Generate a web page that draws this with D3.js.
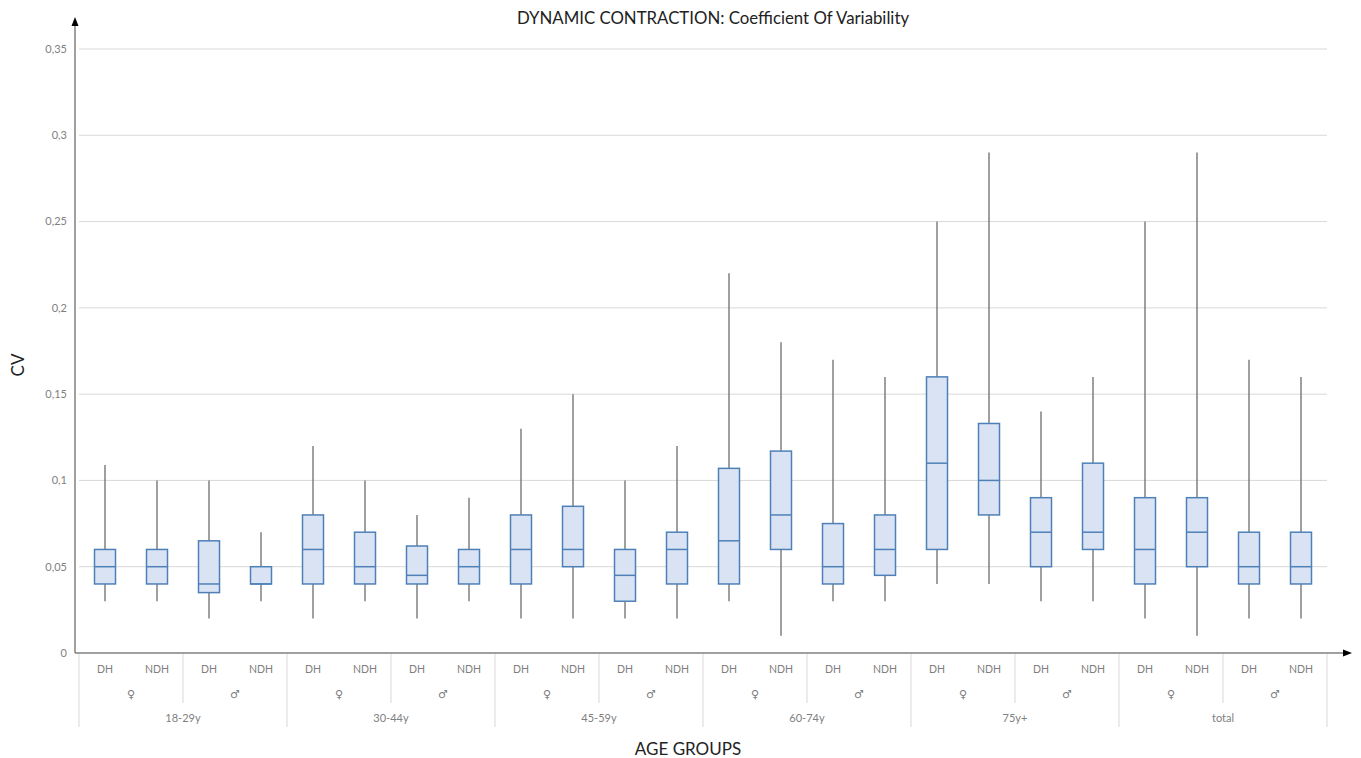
<!DOCTYPE html>
<html>
<head>
<meta charset="utf-8">
<script src="https://cdn.jsdelivr.net/npm/d3@7"></script>
<style>
  html, body { margin: 0; padding: 0; background: #fff; }
  svg { display: block; }
  text { font-family: Lato, "Open Sans", sans-serif; }
</style>
</head>
<body>
<svg id="chart" width="1361" height="758"></svg>
<script>
// Age groups, genders and hands make up the three-level category axis
const ageGroups = ["18-29y", "30-44y", "45-59y", "60-74y", "75y+", "total"];
const genders = ["\u2640", "\u2642"];
const hands = ["DH", "NDH"];

// Box statistics per category (age group × gender × hand), in axis order
const whiskerHigh = [0.109, 0.10, 0.10, 0.07,  0.12, 0.10, 0.08, 0.09,  0.13, 0.15, 0.10, 0.12,
                     0.22, 0.18, 0.17, 0.16,  0.25, 0.29, 0.14, 0.16,  0.25, 0.29, 0.17, 0.16];
const q3          = [0.06, 0.06, 0.065, 0.05, 0.08, 0.07, 0.062, 0.06, 0.08, 0.085, 0.06, 0.07,
                     0.107, 0.117, 0.075, 0.08, 0.16, 0.133, 0.09, 0.11, 0.09, 0.09, 0.07, 0.07];
const median      = [0.05, 0.05, 0.04, 0.04,  0.06, 0.05, 0.045, 0.05, 0.06, 0.06, 0.045, 0.06,
                     0.065, 0.08, 0.05, 0.06, 0.11, 0.10, 0.07, 0.07,  0.06, 0.07, 0.05, 0.05];
const q1          = [0.04, 0.04, 0.035, 0.04, 0.04, 0.04, 0.04, 0.04,  0.04, 0.05, 0.03, 0.04,
                     0.04, 0.06, 0.04, 0.045, 0.06, 0.08, 0.05, 0.06,  0.04, 0.05, 0.04, 0.04];
const whiskerLow  = [0.03, 0.03, 0.02, 0.03,  0.02, 0.03, 0.02, 0.03,  0.02, 0.02, 0.02, 0.02,
                     0.03, 0.01, 0.03, 0.03,  0.04, 0.04, 0.03, 0.03,  0.02, 0.01, 0.02, 0.02];
const yTicks = [0, 0.05, 0.1, 0.15, 0.2, 0.25, 0.3, 0.35];

const title = "DYNAMIC CONTRACTION: Coefficient Of Variability";
const xTitle = "AGE GROUPS";
const yTitle = "CV";

// Flatten categories
const cats = [];
ageGroups.forEach((a, ai) => genders.forEach((g, gi) => hands.forEach((h, hi) => {
  cats.push({ age: a, gender: g, hand: h, key: `${a}|${g}|${h}` });
})));
const data = cats.map((c, i) => ({
  ...c, lo: whiskerLow[i], q1: q1[i], med: median[i], q3: q3[i], hi: whiskerHigh[i]
}));

const svg = d3.select("#chart");
const plotLeft = 79, plotRight = 1327, axisX = 75;
const y = d3.scaleLinear().domain([0, 0.35]).range([653, 49]);
const x = d3.scaleBand().domain(cats.map(c => c.key)).range([plotLeft, plotRight]).padding(0);
const bw = x.bandwidth();
const boxW = 21;
const fmt = v => String(v).replace(".", ",");

// Title
svg.append("text").attr("x", 713).attr("y", 24).attr("text-anchor", "middle")
  .attr("font-size", 16.8).attr("fill", "#222").text(title);

// Horizontal gridlines
svg.append("g").selectAll("line").data(yTicks.filter(t => t > 0)).join("line")
  .attr("x1", plotLeft).attr("x2", plotRight)
  .attr("y1", d => y(d)).attr("y2", d => y(d))
  .attr("stroke", "#d9d9d9").attr("stroke-width", 1);

// Y tick labels
svg.append("g").selectAll("text").data(yTicks).join("text")
  .attr("x", 67).attr("y", d => y(d)).attr("dy", "0.35em")
  .attr("text-anchor", "end").attr("font-size", 11).attr("fill", "#808080")
  .text(fmt);

// Whiskers
const boxes = svg.append("g");
boxes.selectAll("line.whisker").data(data).join("line").attr("class", "whisker")
  .attr("x1", d => x(d.key) + bw / 2).attr("x2", d => x(d.key) + bw / 2)
  .attr("y1", d => y(d.lo)).attr("y2", d => y(d.hi))
  .attr("stroke", "#7f7f7f").attr("stroke-width", 1.5);

// Boxes
boxes.selectAll("rect").data(data).join("rect")
  .attr("x", d => x(d.key) + bw / 2 - boxW / 2).attr("width", boxW)
  .attr("y", d => y(d.q3)).attr("height", d => y(d.q1) - y(d.q3))
  .attr("fill", "#dae3f3").attr("stroke", "#4e80b8").attr("stroke-width", 1.5);

// Medians
boxes.selectAll("line.median").data(data).join("line").attr("class", "median")
  .attr("x1", d => x(d.key) + bw / 2 - boxW / 2).attr("x2", d => x(d.key) + bw / 2 + boxW / 2)
  .attr("y1", d => y(d.med)).attr("y2", d => y(d.med))
  .attr("stroke", "#4e80b8").attr("stroke-width", 1.5);

// Axes with arrowheads
const axisY0 = y(0);
svg.append("line").attr("x1", axisX).attr("x2", axisX).attr("y1", axisY0).attr("y2", 24)
  .attr("stroke", "#808080").attr("stroke-width", 1.5);
svg.append("line").attr("x1", axisX).attr("x2", 1345).attr("y1", axisY0).attr("y2", axisY0)
  .attr("stroke", "#808080").attr("stroke-width", 1.5);
svg.append("path").attr("d", `M${axisX},17 L${axisX - 3.5},26 L${axisX + 3.5},26 Z`).attr("fill", "#000");
svg.append("path").attr("d", `M1352,${axisY0} L1343,${axisY0 - 3.5} L1343,${axisY0 + 3.5} Z`).attr("fill", "#000");

// Category axis: hand labels
const lab = svg.append("g");
lab.selectAll("text.hand").data(cats).join("text").attr("class", "hand")
  .attr("x", d => x(d.key) + bw / 2).attr("y", 669).attr("dy", "0.35em")
  .attr("text-anchor", "middle").attr("font-size", 10.5).attr("fill", "#808080")
  .text(d => d.hand);

// Gender labels and age-group labels
const genderGroups = [];
ageGroups.forEach(a => genders.forEach(g => genderGroups.push({ age: a, gender: g })));
const start = (a, g) => x(`${a}|${g}|${hands[0]}`);
lab.selectAll("text.gender").data(genderGroups).join("text").attr("class", "gender")
  .attr("x", d => start(d.age, d.gender) + bw * hands.length / 2).attr("y", 694).attr("dy", "0.35em")
  .attr("text-anchor", "middle").attr("font-size", 11).attr("fill", "#808080")
  .style("font-family", "'DejaVu Sans', sans-serif")
  .text(d => d.gender);
lab.selectAll("text.age").data(ageGroups).join("text").attr("class", "age")
  .attr("x", d => start(d, genders[0]) + bw * hands.length * genders.length / 2).attr("y", 718).attr("dy", "0.35em")
  .attr("text-anchor", "middle").attr("font-size", 11).attr("fill", "#808080")
  .text(d => d);

// Separators between gender groups and age groups
const sep = svg.append("g").attr("stroke", "#d9d9d9").attr("stroke-width", 1);
genderGroups.forEach(d => {
  if (d.gender === genders[1]) {
    const sx = start(d.age, d.gender);
    sep.append("line").attr("x1", sx).attr("x2", sx).attr("y1", axisY0 + 1).attr("y2", 703);
  }
});
ageGroups.forEach(a => {
  const sx = start(a, genders[0]);
  sep.append("line").attr("x1", sx).attr("x2", sx).attr("y1", axisY0 + 1).attr("y2", 727);
});
sep.append("line").attr("x1", plotRight).attr("x2", plotRight).attr("y1", axisY0 + 1).attr("y2", 727);

// Axis titles
svg.append("text").attr("x", 688).attr("y", 749).attr("dy", "0.35em").attr("text-anchor", "middle")
  .attr("font-size", 17).attr("fill", "#222").text(xTitle);
svg.append("text").attr("transform", "translate(18,365) rotate(-90)").attr("dy", "0.35em")
  .attr("text-anchor", "middle").attr("font-size", 17).attr("fill", "#222").text(yTitle);
</script>
</body>
</html>
